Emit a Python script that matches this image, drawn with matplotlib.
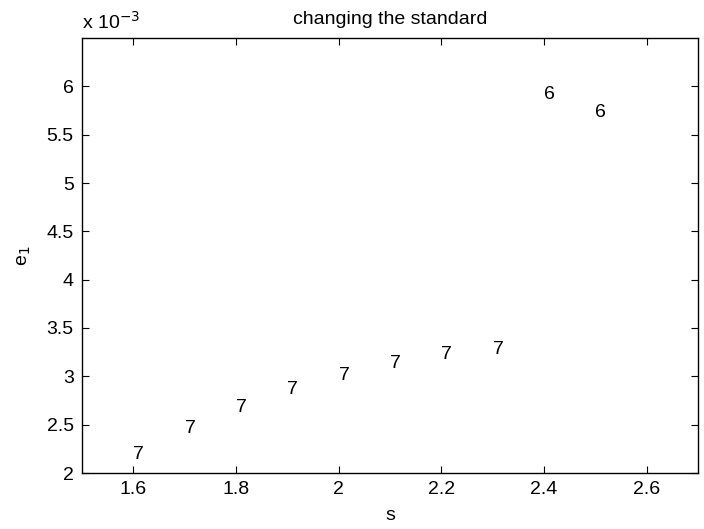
import matplotlib
matplotlib.use("Agg")
import matplotlib.pyplot as plt
import numpy as np

s_vals = [1.6, 1.7, 1.8, 1.9, 2.0, 2.1, 2.2, 2.3, 2.4, 2.5]
e1_vals = [2.19e-3, 2.46e-3, 2.68e-3, 2.86e-3, 3.01e-3, 3.13e-3, 3.23e-3, 3.28e-3, 5.915e-3, 5.73e-3]
point_labels = ["7", "7", "7", "7", "7", "7", "7", "7", "6", "6"]
xticks = [1.6, 1.8, 2.0, 2.2, 2.4, 2.6]
yticks = [2e-3, 2.5e-3, 3e-3, 3.5e-3, 4e-3, 4.5e-3, 5e-3, 5.5e-3, 6e-3]

plt.rcParams['font.family'] = ['Liberation Sans', 'DejaVu Sans']
fs = 14

fig = plt.figure(figsize=(7.04, 5.29), dpi=100)
ax = fig.add_axes([82/704, 1-473/529, (698-82)/704, (473-38)/529])

ax.set_xlim(1.5, 2.7)
ax.set_ylim(2e-3, 6.5e-3)
for x, y, t in zip(s_vals, e1_vals, point_labels):
    ax.text(x, y, t, ha='left', va='center', fontsize=fs)

ax.set_xticks(xticks)
ax.set_xticklabels([f"{v:g}" for v in xticks], fontsize=fs)
ax.set_yticks(yticks)
ax.set_yticklabels([f"{v*1e3:g}" for v in yticks], fontsize=fs)
ax.tick_params(direction='in', length=5, width=0.8, top=True, right=True, pad=6)
for sp in ax.spines.values():
    sp.set_linewidth(1.0)

ax.set_title("changing the standard", fontsize=fs, pad=10)
ax.set_xlabel("s", fontsize=fs, labelpad=6)
ax.set_ylabel("e$_1$", fontsize=fs, labelpad=10)
fig.text(82/704, 1-22/529, "x 10$^{-3}$", fontsize=fs, ha='left', va='center')

fig.savefig("out.png", dpi=100)
